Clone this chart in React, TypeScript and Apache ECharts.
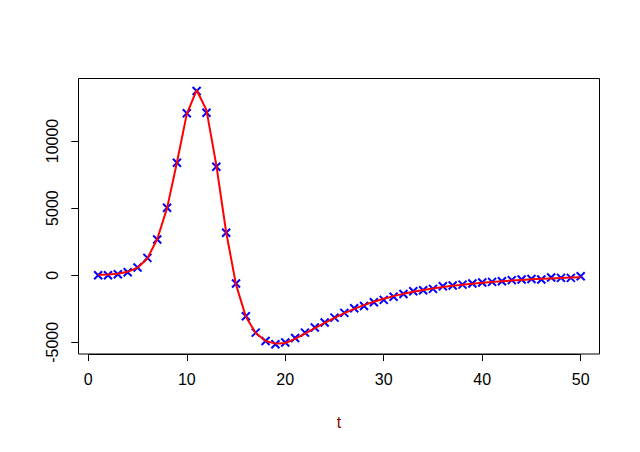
import React, { useEffect, useRef } from "react";
import * as echarts from "echarts";

const tValues: number[] = Array.from({ length: 50 }, (_, i) => i + 1);

const observed: number[] = [
  0, 0, 75, 220, 570, 1290, 2660, 5020, 8380, 12070,
  13730, 12110, 8080, 3160, -620, -3060, -4280, -4900, -5150, -5020,
  -4680, -4280, -3900, -3530, -3160, -2810, -2460, -2290, -2010, -1840,
  -1610, -1400, -1190, -1120, -1020, -820, -770, -700, -620, -550,
  -500, -450, -370, -320, -280, -320, -170, -200, -200, -75,
];

const fitted: number[] = [
  30, 60, 110, 250, 560, 1250, 2700, 5000, 8400, 12000,
  13800, 12300, 8200, 3200, -700, -3100, -4300, -4900, -5100, -5050,
  -4750, -4350, -3950, -3550, -3180, -2830, -2510, -2230, -1980, -1760,
  -1560, -1390, -1240, -1110, -990, -880, -790, -710, -630, -560,
  -500, -450, -400, -350, -310, -270, -240, -210, -180, -150,
];

const xTicks = { min: 0, max: 50, step: 10 };
const yTicks = { min: -5000, max: 10000, step: 5000 };
const xLabel = "t";

const FONT = "'Liberation Sans', Arial, sans-serif";

export default function App() {
  const ref = useRef<HTMLDivElement>(null);
  useEffect(() => {
    if (!ref.current) return;
    const chart = echarts.init(ref.current, null, { renderer: "svg" });
    const obsData = tValues.map((t, i) => [t, observed[i]]);
    const fitData = tValues.map((t, i) => [t, fitted[i]]);
    chart.setOption({
      animation: false,
      backgroundColor: "#ffffff",
      grid: { left: 88.3, right: 59.3, top: 141, bottom: 109.7, containLabel: false },
      xAxis: {
        type: "value",
        min: xTicks.min,
        max: xTicks.max,
        interval: xTicks.step,
        offset: 11.7,
        name: xLabel,
        nameLocation: "middle",
        nameGap: 60,
        nameTextStyle: {
          color: "#8B0000",
          fontSize: 16,
          fontFamily: FONT,
          verticalAlign: "top",
          padding: [0, 0, 0, 9],
        },
        axisLine: { show: true, onZero: false, lineStyle: { color: "#000", width: 1 } },
        axisTick: { show: true, inside: false, length: 7, lineStyle: { color: "#000" } },
        axisLabel: { color: "#000", fontSize: 16, fontFamily: FONT, margin: 17, formatter: (v: number) => String(v) },
        splitLine: { show: false },
      },
      yAxis: {
        type: "value",
        min: yTicks.min,
        max: yTicks.max,
        interval: yTicks.step,
        offset: 10,
        axisLine: { show: true, onZero: false, lineStyle: { color: "#000", width: 1 } },
        axisTick: { show: true, inside: false, length: 7, lineStyle: { color: "#000" } },
        axisLabel: {
          color: "#000",
          fontSize: 16,
          fontFamily: FONT,
          margin: 18,
          rotate: 90,
          align: "center",
          verticalAlign: "bottom",
          formatter: (v: number) => String(v),
        },
        splitLine: { show: false },
      },
      graphic: [
        {
          type: "rect",
          shape: { x: 78.5, y: 78.5, width: 521, height: 275.5 },
          style: { fill: "none", stroke: "#000", lineWidth: 1 },
          z: 100,
          silent: true,
        },
      ],
      series: [
        {
          type: "scatter",
          data: obsData,
          symbol: "path://M0,0L10,10M10,0L0,10",
          symbolSize: 8,
          clip: false,
          itemStyle: { color: "rgba(0,0,0,0)", borderColor: "#0000FF", borderWidth: 2, opacity: 1 },
          z: 2,
        },
        {
          type: "line",
          data: fitData,
          showSymbol: false,
          symbol: "none",
          clip: false,
          lineStyle: { color: "#FF0000", width: 2 },
          z: 3,
        },
      ],
    });
    return () => chart.dispose();
  }, []);
  return <div ref={ref} style={{ width: 640, height: 452, position: "absolute", left: 0, top: 0 }} />;
}
